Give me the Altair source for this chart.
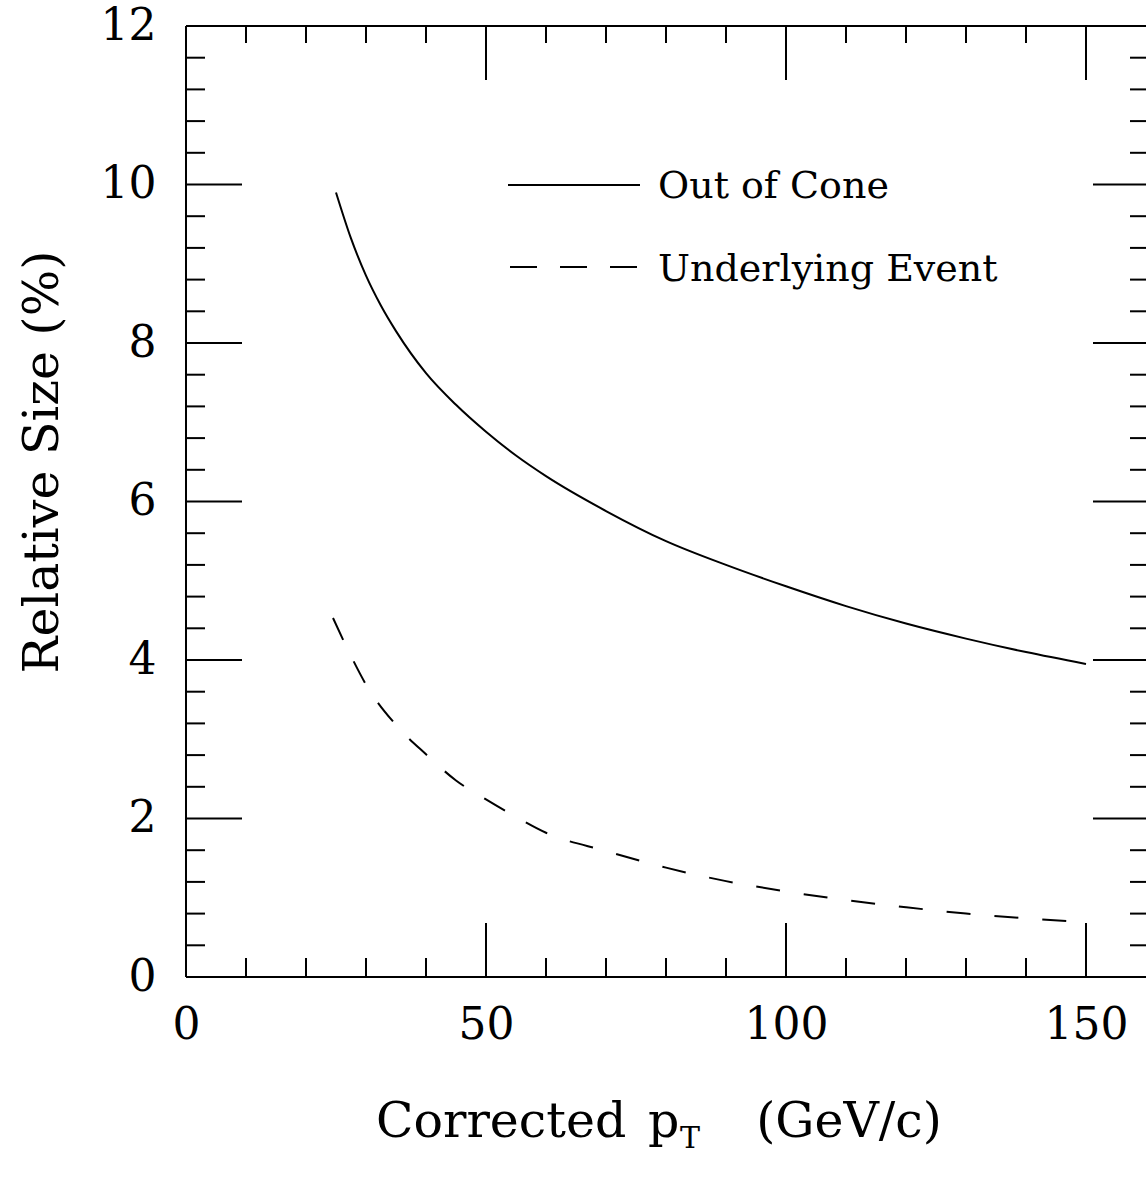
import altair as alt
import pandas as pd

# ---- data ----
pt_out = [25, 27.5, 30, 32.5, 35, 40, 45, 50, 55, 60, 70, 80, 90, 100, 110, 120, 130, 140, 150]
rel_out = [9.90, 9.32, 8.85, 8.47, 8.15, 7.62, 7.22, 6.88, 6.58, 6.32, 5.88, 5.50, 5.20, 4.93, 4.68, 4.46, 4.27, 4.10, 3.95]

pt_ue = [24.5, 27.5, 30, 35, 40, 45, 50, 55, 60, 70, 80, 90, 100, 110, 120, 130, 140, 150]
rel_ue = [4.53, 4.05, 3.69, 3.18, 2.81, 2.48, 2.24, 2.02, 1.82, 1.59, 1.38, 1.21, 1.08, 0.97, 0.88, 0.80, 0.74, 0.69]

x_labels = [0, 50, 100, 150]
y_labels = [0, 2, 4, 6, 8, 10, 12]
x_major = [50, 100, 150]
x_minor = [10, 20, 30, 40, 60, 70, 80, 90, 110, 120, 130, 140]
y_major = [2, 4, 6, 8, 10]
y_minor = [0.4, 0.8, 1.2, 1.6, 2.4, 2.8, 3.2, 3.6, 4.4, 4.8, 5.2, 5.6,
           6.4, 6.8, 7.2, 7.6, 8.4, 8.8, 9.2, 9.6, 10.4, 10.8, 11.2, 11.6]

legend_names = ["Out of Cone", "Underlying Event"]
x_title_parts = ["Corrected", "p", "T", "(GeV/c)"]
y_title = "Relative Size (%)"

W, H = 960, 951
FONT = "DejaVu Serif"
INK = "black"

xs = alt.Scale(domain=[0, 160], nice=False, zero=False)
ys = alt.Scale(domain=[0, 12], nice=False, zero=False)
x_axis = alt.Axis(values=x_labels, ticks=False, domain=False, grid=False,
                  labelFont=FONT, labelFontSize=44, labelPadding=26,
                  labelColor=INK, labelFlush=False, labelOverlap=False, title=None)
y_axis = alt.Axis(values=y_labels, ticks=False, domain=False, grid=False,
                  labelFont=FONT, labelFontSize=44, labelPadding=30,
                  labelColor=INK, labelFlush=False, labelOverlap=False, title=None)
dummy = alt.Data(values=[{}])

df_out = pd.DataFrame({"pt": pt_out, "rel": rel_out})
df_ue = pd.DataFrame({"pt": pt_ue, "rel": rel_ue})

line_out = alt.Chart(df_out).mark_line(color=INK, strokeWidth=2, interpolate="monotone").encode(
    x=alt.X("pt:Q", scale=xs, axis=x_axis),
    y=alt.Y("rel:Q", scale=ys, axis=y_axis),
)

line_ue = alt.Chart(df_ue).mark_line(color=INK, strokeWidth=2, strokeDash=[24, 24],
                                     interpolate="monotone").encode(
    x=alt.X("pt:Q", scale=xs, axis=x_axis),
    y=alt.Y("rel:Q", scale=ys, axis=y_axis),
)


def xticks(vals, y0, y1):
    return alt.Chart(pd.DataFrame({"v": vals})).mark_rule(color=INK, strokeWidth=2).encode(
        x=alt.X("v:Q", scale=xs, axis=x_axis), y=alt.value(y0), y2=alt.value(y1))


def yticks(vals, x0, x1):
    return alt.Chart(pd.DataFrame({"v": vals})).mark_rule(color=INK, strokeWidth=2).encode(
        y=alt.Y("v:Q", scale=ys, axis=y_axis), x=alt.value(x0), x2=alt.value(x1))


ticks = [
    xticks(x_major, H, H - 54), xticks(x_minor, H, H - 19),
    xticks(x_major, 0, 54), xticks(x_minor, 0, 17),
    yticks(y_major, 0, 56), yticks(y_minor, 0, 19),
    yticks(y_major, W, W - 53), yticks(y_minor, W, W - 16),
]

frame = [
    alt.Chart(dummy).mark_rule(color=INK, strokeWidth=2).encode(
        x=alt.value(0), y=alt.value(0), y2=alt.value(H)),
    alt.Chart(dummy).mark_rule(color=INK, strokeWidth=2).encode(
        x=alt.value(0), x2=alt.value(W), y=alt.value(0)),
    alt.Chart(dummy).mark_rule(color=INK, strokeWidth=2).encode(
        x=alt.value(0), x2=alt.value(W), y=alt.value(H)),
]

legend = [
    alt.Chart(dummy).mark_rule(color=INK, strokeWidth=2).encode(
        x=alt.value(322), x2=alt.value(454), y=alt.value(159)),
    alt.Chart(dummy).mark_rule(color=INK, strokeWidth=2, strokeDash=[27, 23]).encode(
        x=alt.value(324), x2=alt.value(451), y=alt.value(241)),
    alt.Chart(dummy).mark_text(text=legend_names[0], align="left", baseline="alphabetic",
                               font=FONT, fontSize=38, color=INK).encode(
        x=alt.value(472), y=alt.value(172)),
    alt.Chart(dummy).mark_text(text=legend_names[1], align="left", baseline="alphabetic",
                               font=FONT, fontSize=38, color=INK).encode(
        x=alt.value(472), y=alt.value(255)),
]

titles = [
    alt.Chart(dummy).mark_text(text=x_title_parts[0], align="left", baseline="alphabetic",
                               font=FONT, fontSize=49, color=INK).encode(
        x=alt.value(190), y=alt.value(1111)),
    alt.Chart(dummy).mark_text(text=x_title_parts[1], align="left", baseline="alphabetic",
                               font=FONT, fontSize=49, color=INK).encode(
        x=alt.value(462), y=alt.value(1111)),
    alt.Chart(dummy).mark_text(text=x_title_parts[2], align="left", baseline="alphabetic",
                               font=FONT, fontSize=30, color=INK).encode(
        x=alt.value(494), y=alt.value(1122)),
    alt.Chart(dummy).mark_text(text=x_title_parts[3], align="center", baseline="alphabetic",
                               font=FONT, fontSize=49, color=INK).encode(
        x=alt.value(663), y=alt.value(1111)),
    alt.Chart(dummy).mark_text(text=y_title, align="center", baseline="alphabetic", angle=270,
                               font=FONT, fontSize=49, color=INK).encode(
        x=alt.value(-128), y=alt.value(436)),
]

chart = alt.layer(line_out, line_ue, *ticks, *frame, *legend, *titles).properties(
    width=W, height=H,
    autosize=alt.AutoSizeParams(type="none"),
    padding={"left": 186, "top": 26, "right": 0, "bottom": 200},
    background="white",
).configure_view(stroke=None)

chart.save("out.html", embed_options={"renderer": "svg", "actions": False})
